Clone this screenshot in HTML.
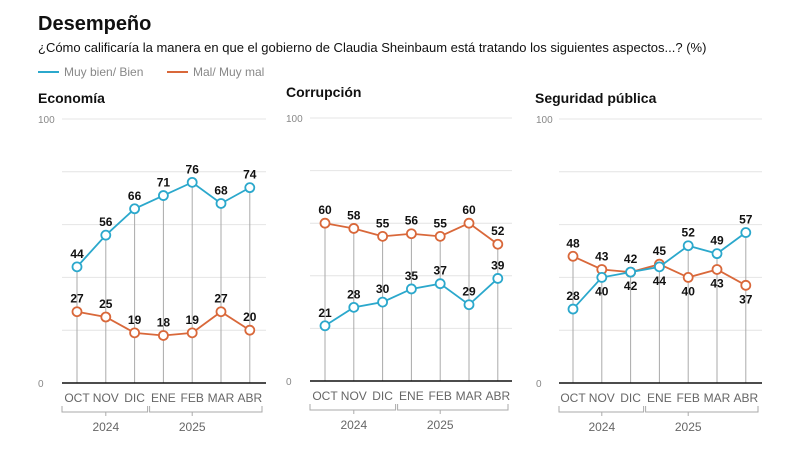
<!DOCTYPE html>
<html><head><meta charset="utf-8">
<style>
body{margin:0;background:#fff;font-family:"Liberation Sans",sans-serif;}
svg text{font-family:"Liberation Sans",sans-serif;}
</style></head>
<body>
<svg id="c" width="800" height="450" viewBox="0 0 800 450">
<text x="38" y="30" font-size="20" font-weight="bold" fill="#111">Desempeño</text>
<text x="38" y="52" font-size="13" fill="#111">¿Cómo calificaría la manera en que el gobierno de Claudia Sheinbaum está tratando los siguientes aspectos...? (%)</text>
<g>
<line x1="38" y1="72" x2="59" y2="72" stroke="#2ba8cc" stroke-width="2"/>
<text x="64" y="76" font-size="12" fill="#888">Muy bien/ Bien</text>
<line x1="167" y1="72" x2="188" y2="72" stroke="#d9683a" stroke-width="2"/>
<text x="193" y="76" font-size="12" fill="#888">Mal/ Muy mal</text>
</g>
</svg>
<script>
const months = ["OCT","NOV","DIC","ENE","FEB","MAR","ABR"];
const years = ["2024","2025"];
const panelTitles = ["Economía","Corrupción","Seguridad pública"];
const bienEconomia = [44,56,66,71,76,68,74];
const malEconomia = [27,25,19,18,19,27,20];
const bienCorrupcion = [21,28,30,35,37,29,39];
const malCorrupcion = [60,58,55,56,55,60,52];
const bienSeguridad = [28,40,42,44,52,49,57];
const malSeguridad = [48,43,42,45,40,43,37];
const yTicks = [0,100];

const svg = document.getElementById('c');
const NS = "http://www.w3.org/2000/svg";
function mk(tag, attrs, parent){const e=document.createElementNS(NS,tag);for(const k in attrs)e.setAttribute(k,attrs[k]);(parent||svg).appendChild(e);return e;}

const panels = [
 {bien:bienEconomia, mal:malEconomia, x0:77, axL:62, axR:266, y0:383, y100:119, titleY:103, titleX:38, lbl:38, bPos:"aaaaaaa", mPos:"aaaaaaa"},
 {bien:bienCorrupcion, mal:malCorrupcion, x0:325, axL:310, axR:512, y0:381, y100:118, titleY:97, titleX:286, lbl:286, bPos:"aaaaaaa", mPos:"aaaaaaa"},
 {bien:bienSeguridad, mal:malSeguridad, x0:573, axL:559, axR:762, y0:383, y100:119, titleY:103, titleX:535, lbl:536, bPos:"abbbaaa", mPos:"aaaabbb"}
];
const step = 28.8;
panels.forEach((p,pi)=>{
  const g = mk('g',{});
  
  
  const yS = v => p.y0 + (p.y100-p.y0)*v/100;
  const xS = i => p.x0 + i*step;
  const t = mk('text',{x:p.titleX,y:p.titleY,'font-size':14,'font-weight':'bold',fill:'#111'},g);
  t.textContent = panelTitles[pi];
  
  
  for(let v=20; v<=100; v+=20){
    const l = mk('line',{x1:p.axL,x2:p.axR,y1:yS(v),y2:yS(v),stroke:'#e4e4e4','stroke-width':1},g);
    
    
  }
  yTicks.forEach(v=>{
    const tt = mk('text',{x:p.lbl,y:yS(v)+4,'font-size':10,fill:'#888'},g);
    tt.textContent = v;
    
    
  });
  months.forEach((m,i)=>{
    const top = yS(Math.max(p.bien[i],p.mal[i]));
    const d = mk('line',{x1:xS(i),x2:xS(i),y1:top,y2:p.y0,stroke:'#aaa','stroke-width':1},g);
    
    
    const ml = mk('text',{x:xS(i),y:p.y0+19,'font-size':12,fill:'#666','text-anchor':'middle','textLength':m.length>3?0:0},g);
    ml.removeAttribute('textLength');
    ml.textContent = m;
    
    
  });
  const ax = mk('line',{x1:p.axL,x2:p.axR,y1:p.y0,y2:p.y0,stroke:'#111','stroke-width':1.5},g);
  
  
  const br = [[p.axL,xS(2)+13,years[0],xS(1)],[xS(2)+15,p.axR-4,years[1],xS(4)]];
  br.forEach(b=>{
    const by = p.y0+29;
    const pl = mk('polyline',{points:`${b[0]},${by-6} ${b[0]},${by} ${b[1]},${by} ${b[1]},${by-6}`,fill:'none',stroke:'#aaa','stroke-width':1},g);
    
    
    mk('line',{x1:b[3],x2:b[3],y1:by,y2:by+4,stroke:'#aaa'},g);
    const yt = mk('text',{x:b[3],y:by+19,'font-size':12,fill:'#666','text-anchor':'middle'},g);
    yt.textContent = b[2];
    
    
  });
  [[p.mal,'#d9683a',p.mPos,'mal'],[p.bien,'#2ba8cc',p.bPos,'bien']].forEach(s=>{
    const vals=s[0];
    const line = mk('polyline',{points:vals.map((v,i)=>xS(i)+','+yS(v)).join(' '),fill:'none',stroke:s[1],'stroke-width':1.8},g);
    
    
    vals.forEach((v,i)=>{
      const c = mk('circle',{cx:xS(i),cy:yS(v),r:4.5,fill:'#fff',stroke:s[1],'stroke-width':1.8},g);
      
      
      const above = s[2][i]==='a';
      const lt = mk('text',{x:xS(i),y:above?yS(v)-9:yS(v)+18,'font-size':12,'font-weight':'bold',fill:'#111','text-anchor':'middle'},g);
      lt.textContent = v;
      
      
    });
  });
});
</script>
</body></html>
